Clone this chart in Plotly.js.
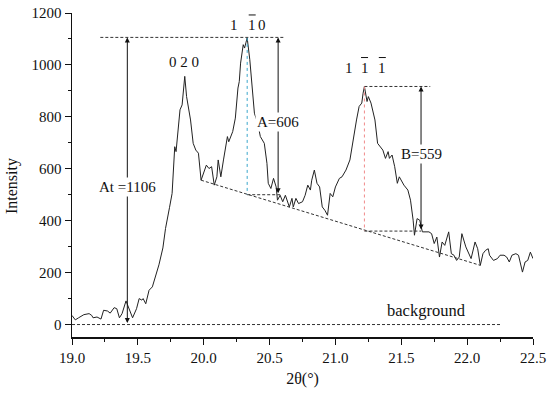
<!DOCTYPE html>
<html>
<head>
<meta charset="utf-8">
<script src="https://cdn.plot.ly/plotly-3.0.1.min.js"></script>
<style>
  html, body { margin: 0; padding: 0; background: #fff; }
  #chart { width: 550px; height: 396px; }
</style>
</head>
<body>
<div id="chart"></div>
<script>
// XRD scan: 2theta (deg) and intensity
const twoTheta = [
  19.00, 19.025, 19.05, 19.09, 19.13, 19.15, 19.16, 19.19, 19.22, 19.24,
  19.27, 19.29, 19.32, 19.34, 19.36, 19.38, 19.41, 19.44, 19.46, 19.49,
  19.51, 19.53, 19.54, 19.56, 19.585, 19.61, 19.64, 19.66, 19.69, 19.71,
  19.74, 19.76, 19.78, 19.79, 19.82, 19.836, 19.856, 19.87, 19.90, 19.92,
  19.94, 19.96, 19.98, 20.00, 20.02, 20.04, 20.06, 20.08, 20.10, 20.11,
  20.13, 20.15, 20.18, 20.19, 20.22, 20.24, 20.26, 20.27, 20.28, 20.30,
  20.31, 20.32, 20.33, 20.35, 20.37, 20.385, 20.41, 20.43, 20.46, 20.48,
  20.49, 20.51, 20.53, 20.55, 20.56, 20.58, 20.60, 20.62, 20.65, 20.67,
  20.68, 20.70, 20.72, 20.75, 20.77, 20.79, 20.81, 20.82, 20.84, 20.86,
  20.88, 20.90, 20.92, 20.94, 20.96, 20.98, 21.00, 21.03, 21.05, 21.08,
  21.11, 21.14, 21.16, 21.18, 21.20, 21.21, 21.22, 21.24, 21.25, 21.27,
  21.29, 21.30, 21.32, 21.34, 21.36, 21.38, 21.40, 21.41, 21.43, 21.45,
  21.47, 21.485, 21.50, 21.52, 21.55, 21.57, 21.59, 21.60, 21.62, 21.64,
  21.66, 21.68, 21.71, 21.73, 21.75, 21.77, 21.79, 21.81, 21.83, 21.86,
  21.88, 21.90, 21.92, 21.94, 21.96, 21.99, 22.01, 22.03, 22.06, 22.08,
  22.10, 22.12, 22.14, 22.16, 22.17, 22.20, 22.23, 22.25, 22.28, 22.30,
  22.32, 22.34, 22.37, 22.39, 22.42, 22.44, 22.46, 22.48, 22.50
];
const intensity = [
  35, 18, 26, 38, 42, 35, 26, 29, 21, 55,
  52, 44, 65, 61, 26, 42, 91, 55, 26, 61,
  100, 94, 100, 80, 132, 145, 191, 230, 295, 370,
  450, 505, 685, 666, 827, 846, 956, 878, 788, 698,
  672, 660, 556, 589, 614, 601, 608, 537, 569, 634,
  569, 634, 724, 704, 743, 795, 911, 936, 1007, 1078,
  1065, 1085, 1104, 1020, 917, 814, 775, 724, 698, 621,
  544, 524, 563, 530, 479, 498, 473, 498, 453, 486,
  453, 486, 466, 473, 498, 537, 518, 556, 595, 544,
  530, 453, 440, 421, 505, 492, 530, 563, 569, 595,
  634, 737, 788, 840, 853, 891, 917, 859, 878, 853,
  814, 788, 698, 685, 672, 640, 666, 640, 653, 608,
  544, 569, 556, 537, 518, 479, 402, 344, 408, 402,
  357, 357, 357, 350, 312, 337, 260, 318, 305, 357,
  273, 267, 247, 260, 350, 299, 273, 254, 318, 292,
  228, 273, 286, 292, 267, 247, 254, 267, 267, 260,
  241, 267, 273, 267, 202, 241, 247, 279, 254
];

// Miller index labels: one entry per digit, bar = overlined (negative) index
const hklDigits = ['0 2 0', '1', '1', '0', '1', '1', '1'];
const hklX = [19.85, 20.228, 20.368, 20.444, 21.102, 21.221, 21.356];
const hklY = [1010, 1152, 1152, 1152, 988, 988, 988];
const hklBar = [false, false, true, false, false, true, true];

const peakX = [20.33, 21.22];          // 1-10 and 1-1-1 peak positions
const peakTop = [1104, 917];
const peakBase = [500, 360];
const baselineX = [19.98, 22.10];      // linear background under peaks
const baselineY = [556, 228];
const totalTop = 1106;
const arrowX = [19.42, 20.565, 21.65]; // At, A, B arrows
const arrowText = ['At =1106', 'A=606', 'B=559'];
const arrowTextY = [530, 780, 655];
const bgLineX = [19.0, 22.25];
const bgLabel = 'background';

const serif = 'Times New Roman, Liberation Serif, DejaVu Serif, serif';
const dashStyle = { color: '#333', width: 1, dash: '3px,2px' };

const shapes = [
  // total height reference line
  { type: 'line', xref: 'x', yref: 'y', x0: 19.215, x1: 20.61, y0: totalTop, y1: totalTop, line: dashStyle },
  // zero background
  { type: 'line', xref: 'x', yref: 'y', x0: bgLineX[0], x1: bgLineX[1], y0: 0, y1: 0, line: dashStyle },
  // sloped baseline
  { type: 'line', xref: 'x', yref: 'y', x0: baselineX[0], x1: baselineX[1], y0: baselineY[0], y1: baselineY[1], line: dashStyle },
  // A: peak drop line and base
  { type: 'line', xref: 'x', yref: 'y', x0: peakX[0], x1: peakX[0], y0: peakTop[0], y1: peakBase[0], line: { color: '#3aa6cc', width: 1, dash: 'dot' } },
  { type: 'line', xref: 'x', yref: 'y', x0: peakX[0], x1: arrowX[1] + 0.02, y0: peakBase[0], y1: peakBase[0], line: dashStyle },
  // B: peak top, drop line and base
  { type: 'line', xref: 'x', yref: 'y', x0: peakX[1], x1: 21.72, y0: peakTop[1], y1: peakTop[1], line: dashStyle },
  { type: 'line', xref: 'x', yref: 'y', x0: peakX[1], x1: peakX[1], y0: peakTop[1], y1: peakBase[1], line: { color: '#f08a8a', width: 1, dash: 'dot' } },
  { type: 'line', xref: 'x', yref: 'y', x0: peakX[1], x1: arrowX[2], y0: peakBase[1], y1: peakBase[1], line: dashStyle }
];

// overline bars above negative indices
hklBar.forEach((b, i) => {
  if (!b) return;
  shapes.push({
    type: 'line', xref: 'x', yref: 'y',
    xsizemode: 'pixel', xanchor: hklX[i], x0: -3.5, x1: 3.5,
    ysizemode: 'pixel', yanchor: hklY[i], y0: 10.5, y1: 10.5,
    line: { color: '#111', width: 1 }
  });
});

function doubleArrow(x, y0, y1) {
  return {
    x: x, y: y1, ax: x, ay: y0, xref: 'x', yref: 'y', axref: 'x', ayref: 'y',
    text: '', showarrow: true, arrowhead: 2, startarrowhead: 2, arrowside: 'end+start',
    arrowsize: 1, startarrowsize: 1, arrowwidth: 1, arrowcolor: '#111', standoff: 0, startstandoff: 0
  };
}

const textFont = { family: serif, size: 15, color: '#111' };

const annotations = [
  doubleArrow(arrowX[0], 0, totalTop),
  doubleArrow(arrowX[1], peakBase[0], totalTop),
  doubleArrow(arrowX[2], peakBase[1], peakTop[1])
];
arrowText.forEach((t, i) => annotations.push({
  x: arrowX[i], y: arrowTextY[i], xref: 'x', yref: 'y', text: t, showarrow: false,
  bgcolor: '#fff', borderpad: 1, font: textFont
}));
hklDigits.forEach((t, i) => annotations.push({
  x: hklX[i], y: hklY[i], xref: 'x', yref: 'y', text: t, showarrow: false, font: textFont
}));
annotations.push({ x: 21.69, y: 55, xref: 'x', yref: 'y', text: bgLabel, showarrow: false,
  font: { family: serif, size: 16.5, color: '#111' } });
// y-axis title, sits a little below the plot centre in the original
annotations.push({ x: -0.13, y: 0.466, xref: 'paper', yref: 'paper', xanchor: 'center', yanchor: 'middle',
  text: 'Intensity', textangle: -90, showarrow: false, font: { family: serif, size: 16, color: '#111' } });

const data = [{
  x: twoTheta,
  y: intensity,
  type: 'scatter',
  mode: 'lines',
  line: { color: '#222', width: 1 },
  hoverinfo: 'skip'
}];

const layout = {
  width: 550,
  height: 396,
  margin: { l: 72, r: 17, t: 13, b: 59 },
  paper_bgcolor: '#fff',
  plot_bgcolor: '#fff',
  showlegend: false,
  font: { family: serif, size: 15, color: '#111' },
  xaxis: {
    range: [19, 22.5],
    tickvals: [19, 19.5, 20, 20.5, 21, 21.5, 22, 22.5],
    ticktext: ['19.0', '19.5', '20.0', '20.5', '21.0', '21.5', '22.0', '22.5'],
    ticks: 'outside', ticklen: 6, tickwidth: 1, tickcolor: '#111',
    minor: { ticks: 'outside', dtick: 0.25, ticklen: 3, tickcolor: '#111' },
    showline: true, linecolor: '#111', linewidth: 1.5,
    showgrid: false, zeroline: false,
    tickfont: { family: serif, size: 15 },
    title: { text: '2θ(°)', font: { family: serif, size: 16 }, standoff: 8 }
  },
  yaxis: {
    range: [-48, 1200],
    tickvals: [0, 200, 400, 600, 800, 1000, 1200],
    ticks: 'outside', ticklen: 6, tickwidth: 1, tickcolor: '#111',
    minor: { ticks: 'outside', dtick: 100, ticklen: 3, tickcolor: '#111' },
    showline: true, linecolor: '#111', linewidth: 1.5,
    showgrid: false, zeroline: false,
    tickfont: { family: serif, size: 15 }
  },
  shapes: shapes,
  annotations: annotations
};

Plotly.newPlot('chart', data, layout, { displayModeBar: false, staticPlot: true });
</script>
</body>
</html>
